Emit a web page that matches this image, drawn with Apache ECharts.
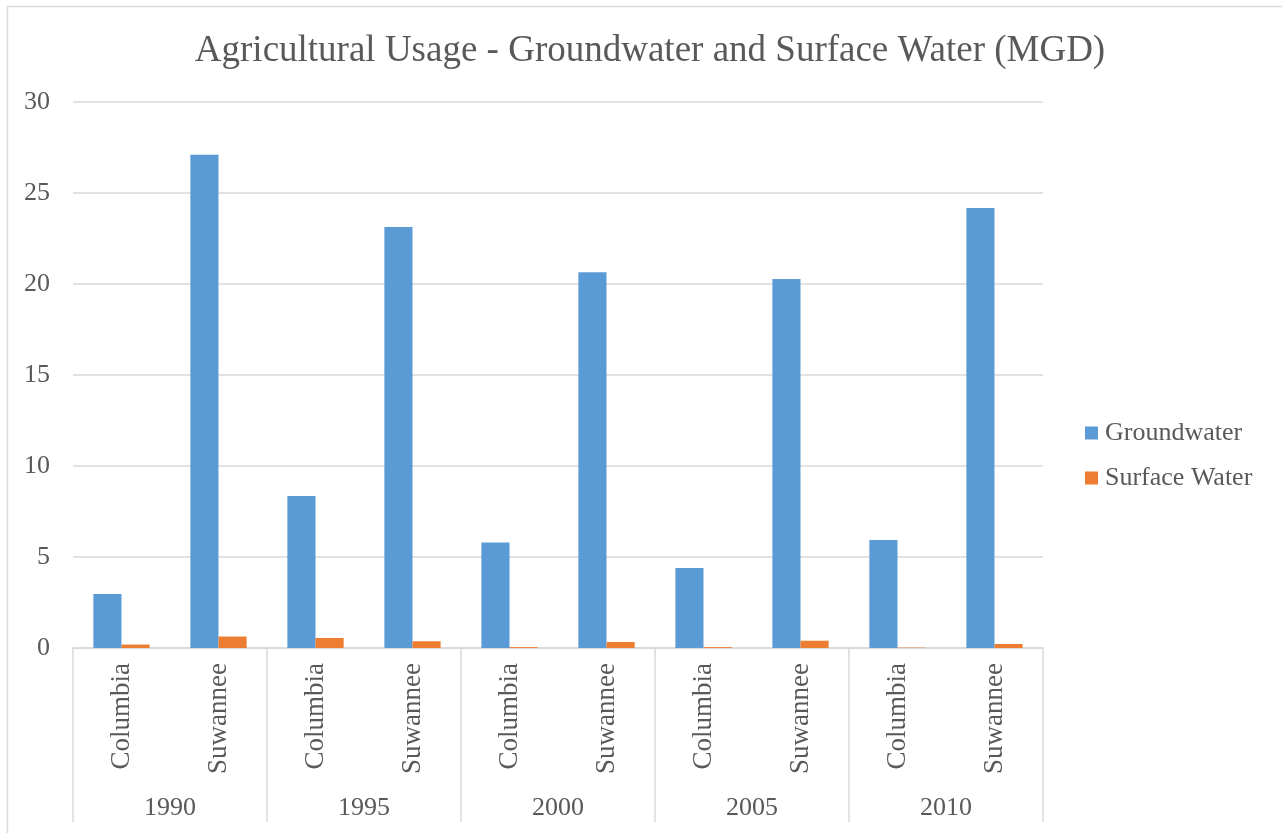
<!DOCTYPE html>
<html>
<head>
<meta charset="utf-8">
<script src="https://cdn.jsdelivr.net/npm/echarts@6/dist/echarts.min.js"></script>
<style>
html,body{margin:0;padding:0;background:#fff;}
#c{width:1282px;height:833px;}
</style>
</head>
<body>
<div id="c"></div>
<script>
var counties = ['Columbia','Suwannee','Columbia','Suwannee','Columbia','Suwannee','Columbia','Suwannee','Columbia','Suwannee'];
var years = ['1990','1995','2000','2005','2010'];
var groundwater = [2.97, 27.1, 8.35, 23.13, 5.8, 20.64, 4.4, 20.27, 5.93, 24.17];
var surfaceWater = [0.19, 0.63, 0.55, 0.37, 0.05, 0.33, 0.05, 0.4, 0.02, 0.22];
var yTicks = {min: 0, max: 30, interval: 5};

var textColor = '#595959';
var fontFam = '"Liberation Serif", "Times New Roman", serif';
var chart = echarts.init(document.getElementById('c'));
chart.setOption({
  animation: false,
  backgroundColor: '#fff',
  title: {
    text: 'Agricultural Usage - Groundwater and Surface Water (MGD)',
    left: 645, textAlign: 'center', top: 28,
    textStyle: {fontFamily: fontFam, fontSize: 37, fontWeight: 'normal', color: textColor}
  },
  graphic: [{
    type: 'rect', z: -1,
    shape: {x: 7.5, y: 6.5, width: 1400, height: 900},
    style: {fill: 'none', stroke: '#D9D9D9', lineWidth: 1.5}
  }],
  legend: {
    orient: 'vertical', left: 1080, top: 415,
    itemWidth: 13, itemHeight: 13, itemGap: 19,
    icon: 'rect',
    textStyle: {fontFamily: fontFam, fontSize: 26, color: textColor, lineHeight: 26, padding: [0,0,0,2]},
    data: ['Groundwater', 'Surface Water']
  },
  grid: {left: 73, right: 239, top: 102, bottom: 185},
  xAxis: [{
    type: 'category', data: counties, position: 'bottom',
    axisLine: {show: true, lineStyle: {color: '#D9D9D9', width: 1.5}},
    axisTick: {show: false},
    axisLabel: {rotate: 90, margin: 15, fontFamily: fontFam, fontSize: 27, color: textColor, interval: 0}
  }, {
    type: 'category', data: years, position: 'bottom',
    axisLine: {show: false},
    axisTick: {show: true, length: 174, lineStyle: {color: '#D9D9D9', width: 1.5}},
    axisLabel: {margin: 147, fontFamily: fontFam, fontSize: 26, color: textColor, interval: 0},
    splitLine: {show: false}
  }],
  yAxis: {
    type: 'value', min: yTicks.min, max: yTicks.max, interval: yTicks.interval,
    axisLine: {show: false}, axisTick: {show: false},
    axisLabel: {margin: 23, fontFamily: fontFam, fontSize: 26, color: textColor},
    splitLine: {lineStyle: {color: '#D9D9D9', width: 1.5}}
  },
  series: [{
    name: 'Groundwater', type: 'bar', xAxisIndex: 0, data: groundwater,
    itemStyle: {color: '#5B9BD5'}, barGap: '0%', barCategoryGap: '42%'
  }, {
    name: 'Surface Water', type: 'bar', xAxisIndex: 0, data: surfaceWater,
    itemStyle: {color: '#ED7D31'}, barGap: '0%', barCategoryGap: '42%'
  }]
});
</script>
</body>
</html>
